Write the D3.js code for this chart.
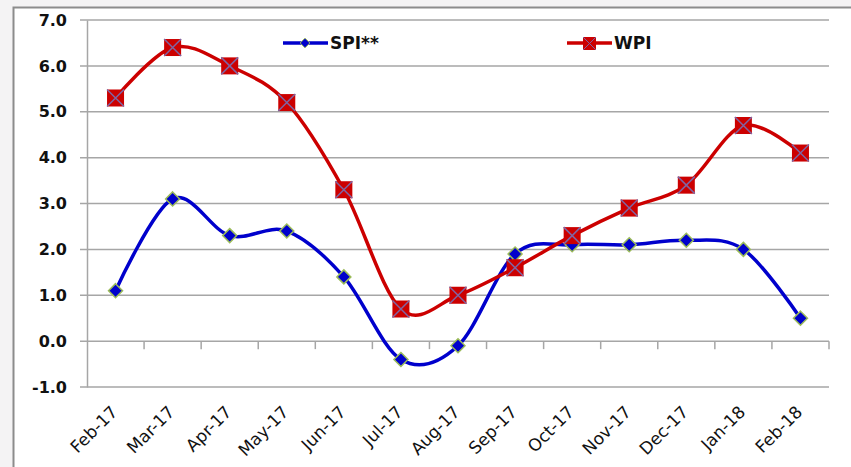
<!DOCTYPE html>
<html>
<head>
<meta charset="utf-8">
<script src="https://cdn.jsdelivr.net/npm/d3@7"></script>
<style>
  body { margin: 0; background: #f4f3f4; }
  svg { display: block; }
</style>
</head>
<body>
<svg></svg>
<script>
// 类别与数据
let months = ['Feb-17', 'Mar-17', 'Apr-17', 'May-17', 'Jun-17', 'Jul-17', 'Aug-17',
    'Sep-17', 'Oct-17', 'Nov-17', 'Dec-17', 'Jan-18', 'Feb-18'];
let spi = [1.1, 3.1, 2.3, 2.4, 1.4, -0.4, -0.1, 1.9, 2.1, 2.1, 2.2, 2.0, 0.5];
let wpi = [5.3, 6.4, 6.0, 5.2, 3.3, 0.7, 1.0, 1.6, 2.3, 2.9, 3.4, 4.7, 4.1];
let yTicks = [-1, 0, 1, 2, 3, 4, 5, 6, 7];

let width = 851;
let height = 467;

// 绘图区域
let plot = { left: 87, right: 829, top: 20, bottom: 387 };

let svg = d3.select('svg')
    .attr('width', width)
    .attr('height', height);

// 外框
svg.append('rect')
    .attr('x', 13.5)
    .attr('y', 7.5)
    .attr('width', width)
    .attr('height', height)
    .attr('fill', '#fff')
    .attr('stroke', '#8c8c8c')
    .attr('stroke-width', 2);

let x = d3.scaleBand()
    .domain(months)
    .range([plot.left, plot.right]);

let y = d3.scaleLinear()
    .domain([-1, 7])
    .range([plot.bottom, plot.top]);

// 数字格式：普通连字符作负号
let fmt = d3.formatLocale({ decimal: '.', thousands: ',', grouping: [3], currency: ['', ''], minus: '-' }).format('.1f');

// 网格线
svg.append('g')
    .selectAll('line')
    .data(yTicks)
    .enter()
    .append('line')
    .attr('x1', plot.left - 7)
    .attr('x2', plot.right)
    .attr('y1', d => y(d))
    .attr('y2', d => y(d))
    .attr('stroke', '#a6a6a6')
    .attr('stroke-width', 1.5);

// y 轴
let yAxis = svg.append('g')
    .attr('transform', 'translate(' + plot.left + ',0)')
    .call(d3.axisLeft(y).tickValues(yTicks).tickFormat(fmt).tickSize(0).tickPadding(20));
yAxis.select('.domain').attr('stroke', '#a6a6a6').attr('stroke-width', 1.5);
yAxis.selectAll('text')
    .style('font-family', 'DejaVu Sans')
    .style('font-weight', 'bold')
    .style('font-size', '16px')
    .attr('fill', '#111');

// x 轴（位于 0 处）
let xAxis = svg.append('g')
    .attr('transform', 'translate(0,' + y(0) + ')');
xAxis.selectAll('line')
    .data(months)
    .enter()
    .append('line')
    .attr('x1', d => x(d) + x.step())
    .attr('x2', d => x(d) + x.step())
    .attr('y1', 0)
    .attr('y2', 8)
    .attr('stroke', '#a6a6a6')
    .attr('stroke-width', 1.5);

// x 轴标签
svg.append('g')
    .selectAll('text')
    .data(months)
    .enter()
    .append('text')
    .attr('transform', d => 'translate(' + (x(d) + x.bandwidth() / 2 + 3) + ',' + 413 + ') rotate(-45)')
    .attr('text-anchor', 'end')
    .style('font-family', 'DejaVu Sans')
    .style('font-size', '17px')
    .attr('fill', '#111')
    .text(d => d);

let cx = (d, i) => x(months[i]) + x.bandwidth() / 2;

let line = d3.line()
    .x(cx)
    .y(d => y(d))
    .curve(d3.curveCatmullRom.alpha(0));

let blue = '#0000cc';
let red = '#cc0000';

svg.append('path')
    .attr('d', line(spi))
    .attr('fill', 'none')
    .attr('stroke', blue)
    .attr('stroke-width', 3.5);

svg.append('path')
    .attr('d', line(wpi))
    .attr('fill', 'none')
    .attr('stroke', red)
    .attr('stroke-width', 3.5);

// 标记
function diamond(g, px, py) {
    g.append('path')
        .attr('d', d3.symbol(d3.symbolDiamond2, 125)())
        .attr('transform', 'translate(' + px + ',' + py + ')')
        .attr('fill', blue)
        .attr('stroke', '#9bbb59')
        .attr('stroke-width', 1.5);
}

function crossSquare(g, px, py) {
    let s = 8.5;
    let m = g.append('g').attr('transform', 'translate(' + px + ',' + py + ')');
    m.append('rect')
        .attr('x', -s).attr('y', -s)
        .attr('width', 2 * s).attr('height', 2 * s)
        .attr('fill', red);
    m.append('path')
        .attr('d', 'M' + -s + ',' + -s + 'L' + s + ',' + s + 'M' + s + ',' + -s + 'L' + -s + ',' + s)
        .attr('stroke', '#8064a2')
        .attr('stroke-width', 1.5);
}

let spiMarks = svg.append('g');
spi.forEach((d, i) => diamond(spiMarks, cx(d, i), y(d)));

let wpiMarks = svg.append('g');
wpi.forEach((d, i) => crossSquare(wpiMarks, cx(d, i), y(d)));

// 图例
let legend = svg.append('g');
let items = [
    { name: 'SPI**', color: blue, x: 283, marker: 'diamond' },
    { name: 'WPI', color: red, x: 567, marker: 'square' }
];
items.forEach(it => {
    legend.append('line')
        .attr('x1', it.x).attr('x2', it.x + 45)
        .attr('y1', 43).attr('y2', 43)
        .attr('stroke', it.color)
        .attr('stroke-width', 3.5);
    if (it.marker === 'diamond') {
        legend.append('path')
            .attr('d', d3.symbol(d3.symbolDiamond2, 60)())
            .attr('transform', 'translate(' + (it.x + 22) + ',43)')
            .attr('fill', blue)
            .attr('stroke', '#9bbb59');
    } else {
        legend.append('rect')
            .attr('x', it.x + 16).attr('y', 37)
            .attr('width', 13).attr('height', 13)
            .attr('fill', red);
        legend.append('path')
            .attr('d', 'M' + (it.x + 16) + ',37l13,13m0,-13l-13,13')
            .attr('stroke', '#8064a2');
    }
    legend.append('text')
        .attr('x', it.x + 47)
        .attr('y', 49)
        .style('font-family', 'DejaVu Sans')
        .style('font-weight', 'bold')
        .style('font-size', '17px')
        .attr('fill', '#111')
        .text(it.name);
});
</script>
</body>
</html>
